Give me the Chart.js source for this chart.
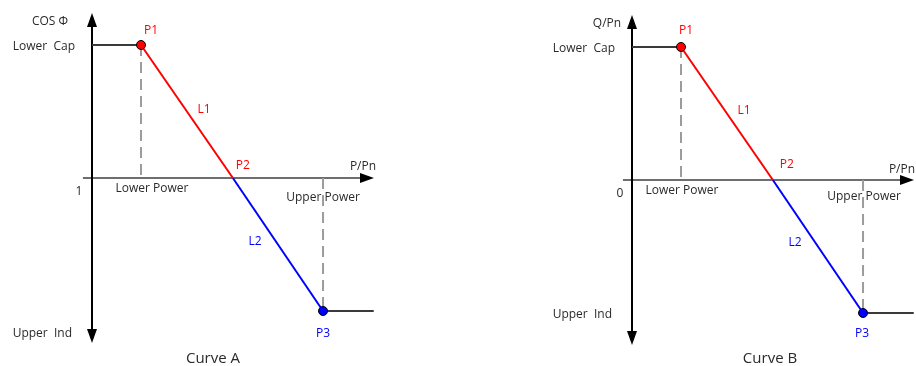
<!DOCTYPE html>
<html>
<head>
<meta charset="utf-8">
<script src="https://cdn.jsdelivr.net/npm/chart.js@4"></script>
<style>
  html, body { margin: 0; padding: 0; background: #fff; overflow: hidden; }
  body { width: 916px; height: 366px; position: relative; }
  canvas { position: absolute; }
  #curve-a { left: 0; top: 0; }
  #curve-b { left: 540px; top: 2px; }
</style>
</head>
<body>
<canvas id="curve-a" width="440" height="366"></canvas>
<canvas id="curve-b" width="376" height="366"></canvas>
<script>
// P/Pn positions: axis, Lower Power (P1), P2, Upper Power (P3), end of curve
const powerPoints = [0, 0.2, 0.575, 0.943, 1.15];
// sketch values: Lower Cap = 1, Upper Ind = -1
const cosPhiValues = [1, 1, 0, -1, -1];
const qValues = [1, 1, 0, -1, -1];
const pointNames = ["P1", "P2", "P3"];
const lineNames = ["L1", "L2"];
const xTickLabels = ["Lower Power", "Upper Power"];
const yTicksA = ["Lower  Cap", "1", "Upper  Ind"];
const yTicksB = ["Lower  Cap", "0", "Upper  Ind"];
const xTitle = "P/Pn";

const FONT = "Open Sans";
const RED = "#ff0000", BLUE = "#0000ff", DARK = "#3a3a3a", GREY = "#9c9c9c", INK = "#2a2a2a";

// pixel layout: origin of the axes inside each canvas and px per unit
const OX = 92, OY = 178, PX_X = 245, PX_Y = 133;

function seg(ys, i, j) {
  return [{ x: powerPoints[i], y: ys[i] }, { x: powerPoints[j], y: ys[j] }];
}

function arrow(ctx, tx, ty, dx, dy) {
  const len = 14, half = 5;
  const bx = tx - dx * len, by = ty - dy * len;
  ctx.beginPath();
  ctx.moveTo(tx, ty);
  ctx.lineTo(bx - dy * half, by + dx * half);
  ctx.lineTo(bx + dy * half, by - dx * half);
  ctx.closePath();
  ctx.fill();
}

function text(ctx, s, x, y, color, align, size) {
  ctx.fillStyle = color;
  ctx.textAlign = align || "center";
  ctx.textBaseline = "middle";
  ctx.font = (size || 12) + "px '" + FONT + "'";
  ctx.fillText(s, x, y + 1.5);
}

const sketch = {
  id: "sketch",
  beforeDatasetsDraw(chart) {
    const { ctx, scales: { x, y } } = chart;
    const x0 = x.getPixelForValue(0), y0 = y.getPixelForValue(0);
    const top = y.getPixelForValue(1.24), bottom = y.getPixelForValue(-1.24);
    const left = x.getPixelForValue(-0.037), right = x.getPixelForValue(1.151);
    ctx.save();
    ctx.lineWidth = 2;
    ctx.strokeStyle = "#6e6e6e";
    ctx.beginPath();
    ctx.moveTo(left, y0);
    ctx.lineTo(right - 10, y0);
    ctx.stroke();
    ctx.strokeStyle = "#000";
    ctx.beginPath();
    ctx.moveTo(x0, top + 10);
    ctx.lineTo(x0, bottom - 10);
    ctx.stroke();
    ctx.fillStyle = "#000";
    arrow(ctx, x0, top, 0, -1);
    arrow(ctx, x0, bottom, 0, 1);
    arrow(ctx, right, y0, 1, 0);
    ctx.restore();
  },
  afterDatasetsDraw(chart, args, o) {
    const { ctx, scales: { x, y } } = chart;
    const ys = o.values;
    const px = powerPoints.map(v => x.getPixelForValue(v));
    const py = ys.map(v => y.getPixelForValue(v));
    const x0 = x.getPixelForValue(0), y0 = y.getPixelForValue(0);
    const right = x.getPixelForValue(1.151);
    const t = o.offsets;
    ctx.save();
    text(ctx, o.yTitle, x0 + t.yTitle[0], y.getPixelForValue(1.24) + t.yTitle[1], INK);
    text(ctx, o.yTicks[0], x0 - 17, py[1], INK, "right");
    text(ctx, o.yTicks[1], x0 + t.zero[0], y0 + t.zero[1], INK);
    text(ctx, o.yTicks[2], x0 - 20, py[3] + t.ind, INK, "right");
    text(ctx, xTickLabels[0], px[1] + t.low[0], y0 + t.low[1], INK);
    text(ctx, xTickLabels[1], px[3] + t.up[0], y0 + t.up[1], INK);
    text(ctx, xTitle, right + t.pn[0], y0 + t.pn[1], INK);
    text(ctx, pointNames[0], px[1] + t.p1[0], py[1] + t.p1[1], RED);
    text(ctx, pointNames[1], px[2] + t.p2[0], py[2] + t.p2[1], RED);
    text(ctx, pointNames[2], px[3] + t.p3[0], py[3] + t.p3[1], BLUE);
    text(ctx, lineNames[0], (px[1] + px[2]) / 2 + 17, (py[1] + py[2]) / 2 + t.l1, RED);
    text(ctx, lineNames[1], (px[2] + px[3]) / 2 - 23, (py[2] + py[3]) / 2 + t.l2, BLUE);
    text(ctx, o.caption, x0 + t.cap[0], y0 + t.cap[1], INK, "center", 15);
    ctx.restore();
  }
};

function drawCurve(id, ys, yTicks, yTitle, caption, offsets) {
  const canvas = document.getElementById(id);
  const W = canvas.width, H = canvas.height;
  const line = (data, color, extra) => Object.assign({
    type: "line", data, borderColor: color, borderWidth: 2,
    pointRadius: 0, fill: false, tension: 0, order: 1
  }, extra || {});
  return new Chart(canvas, {
    type: "scatter",
    data: {
      datasets: [
        { data: [seg(ys, 1, 1)[0]], backgroundColor: RED, borderColor: "#000",
          borderWidth: 1, pointRadius: 4.5, order: 0 },
        { data: [seg(ys, 3, 3)[0]], backgroundColor: BLUE, borderColor: "#000",
          borderWidth: 1, pointRadius: 4.5, order: 0 },
        line(seg(ys, 0, 1), DARK),
        line(seg(ys, 1, 2), RED),
        line(seg(ys, 2, 3), BLUE),
        line(seg(ys, 3, 4), DARK),
        line([{ x: powerPoints[1], y: ys[1] }, { x: powerPoints[1], y: 0 }], GREY,
          { borderDash: [11, 6], order: 2 }),
        line([{ x: powerPoints[3], y: 0 }, { x: powerPoints[3], y: ys[3] }], GREY,
          { borderDash: [11, 6], order: 2 })
      ]
    },
    options: {
      responsive: false,
      animation: false,
      layout: { padding: 0, autoPadding: false },
      scales: {
        x: { type: "linear", display: false, min: -OX / PX_X, max: (W - OX) / PX_X },
        y: { type: "linear", display: false, min: -(H - OY) / PX_Y, max: OY / PX_Y }
      },
      plugins: {
        legend: { display: false },
        tooltip: { enabled: false },
        sketch: { values: ys, yTicks, yTitle, caption, offsets }
      }
    },
    plugins: [sketch]
  });
}

drawCurve("curve-a", cosPhiValues, yTicksA, "COS Φ", "Curve A", {
  yTitle: [-42, 7], zero: [-13, 12], ind: 21, low: [11, 9], up: [0, 18],
  pn: [-11, -13], p1: [10, -16], p2: [10, -14], p3: [0, 21], l1: -3, l2: -4,
  cap: [121, 179]
});
drawCurve("curve-b", qValues, yTicksB, "Q/Pn", "Curve B", {
  yTitle: [-25, 7], zero: [-12, 12], ind: 0, low: [1, 9], up: [1, 15],
  pn: [-12, -12], p1: [5, -18], p2: [14, -17], p3: [-1, 19], l1: -4, l2: -5,
  cap: [138, 177]
});
</script>
</body>
</html>
